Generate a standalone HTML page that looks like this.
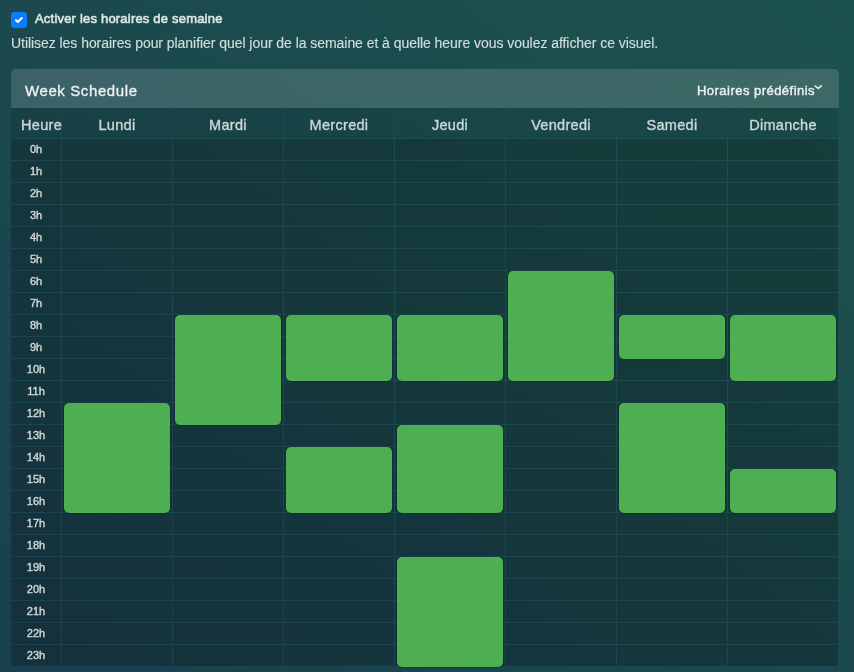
<!DOCTYPE html><html><head><meta charset="utf-8"><title>Week Schedule</title><style>
*{box-sizing:border-box;margin:0;padding:0}
.t{will-change:transform}
html,body{width:854px;height:672px;overflow:hidden}
body{position:relative;font-family:"Liberation Sans",Arial,sans-serif;
background:linear-gradient(to top right,#1a4050 0%,#1b494e 50%,#1c524d 100%);}
.cb{position:absolute;left:11px;top:12px;width:16px;height:16px;border-radius:3px;background:#0b7bff}
.cb svg{position:absolute;left:0;top:0}
.lbl{position:absolute;left:35px;top:10px;font-size:13px;line-height:17px;color:#dde5e5;white-space:nowrap;letter-spacing:0.2px;-webkit-text-stroke:0.6px #dde5e5}
.desc{position:absolute;left:11px;top:35px;font-size:14px;line-height:17px;color:#d3dcdc;letter-spacing:-0.05px;white-space:nowrap;-webkit-text-stroke:0.15px #d3dcdc}
.hdr{position:absolute;left:11px;top:69px;width:828px;height:39px;border-radius:5px 5px 0 0;background:rgba(255,255,255,0.145)}
.ttl{position:absolute;left:25px;top:81px;font-size:15px;line-height:19px;letter-spacing:0.6px;color:#f0f4f4;white-space:nowrap;-webkit-text-stroke:0.3px #f0f4f4}
.pre{position:absolute;left:697px;top:83px;font-size:13px;line-height:16px;color:#eef3f3;white-space:nowrap;letter-spacing:0.47px;-webkit-text-stroke:0.4px #eef3f3}
.chev{position:absolute;left:813px;top:83px}
.hc{position:absolute;top:108px;height:30px;background:rgba(0,0,0,0.09)}
.hv{position:absolute;top:108px;height:30px;width:1px;background:rgba(255,255,255,0.025)}
.bc{position:absolute;top:139px;height:527px;background:repeating-linear-gradient(to bottom,rgba(0,0,0,0.24) 0,rgba(0,0,0,0.24) 21px,transparent 21px,transparent 22px)}
.th{position:absolute;top:110px;height:31px;line-height:31px;text-align:center;font-size:14.5px;letter-spacing:0.3px;-webkit-text-stroke:0.35px #cdd8d8;color:#cdd8d8;white-space:nowrap}
.hr{position:absolute;left:11px;width:50px;text-align:center;font-size:11px;-webkit-text-stroke:0.4px #cfd7d7;color:#cfd7d7;line-height:21px;height:21px}
.blk{position:absolute;width:106px;background:#4daf51;border-radius:5px;box-shadow:0 0 2px rgba(0,0,0,0.35)}
</style></head><body>
<div class="cb"><svg width="16" height="16" viewBox="0 0 16 16"><path d="M5 8.2 L6.8 9.9 L10.8 6.1" fill="none" stroke="#fff" stroke-width="2.1" stroke-linecap="round" stroke-linejoin="round"/></svg></div>
<div class="lbl t">Activer les horaires de semaine</div>
<div class="desc t">Utilisez les horaires pour planifier quel jour de la semaine et à quelle heure vous voulez afficher ce visuel.</div>
<div class="hdr"></div><div class="ttl t">Week Schedule</div>
<div class="pre t">Horaires prédéfinis</div>
<svg class="chev" width="12" height="8" viewBox="0 0 12 8"><path d="M2.3 3.1 L5.2 5.5 L8.3 2.8" fill="none" stroke="#eef3f3" stroke-width="1.6" stroke-linecap="round" stroke-linejoin="round"/></svg>
<div class="hc" style="left:11px;width:827px"></div>
<div class="hv" style="left:61px"></div>
<div class="hv" style="left:172px"></div>
<div class="hv" style="left:283px"></div>
<div class="hv" style="left:394px"></div>
<div class="hv" style="left:505px"></div>
<div class="hv" style="left:616px"></div>
<div class="hv" style="left:727px"></div>
<div class="bc" style="left:11px;width:50px"></div>
<div class="bc" style="left:62px;width:110px"></div>
<div class="bc" style="left:173px;width:110px"></div>
<div class="bc" style="left:284px;width:110px"></div>
<div class="bc" style="left:395px;width:110px"></div>
<div class="bc" style="left:506px;width:110px"></div>
<div class="bc" style="left:617px;width:110px"></div>
<div class="bc" style="left:728px;width:110px"></div>
<div class="th t" style="left:21px;text-align:left">Heure</div>
<div class="th t" style="left:62px;width:110px">Lundi</div>
<div class="th t" style="left:173px;width:110px">Mardi</div>
<div class="th t" style="left:284px;width:110px">Mercredi</div>
<div class="th t" style="left:395px;width:110px">Jeudi</div>
<div class="th t" style="left:506px;width:110px">Vendredi</div>
<div class="th t" style="left:617px;width:110px">Samedi</div>
<div class="th t" style="left:728px;width:110px">Dimanche</div>
<div class="hr t" style="top:139px">0h</div>
<div class="hr t" style="top:161px">1h</div>
<div class="hr t" style="top:183px">2h</div>
<div class="hr t" style="top:205px">3h</div>
<div class="hr t" style="top:227px">4h</div>
<div class="hr t" style="top:249px">5h</div>
<div class="hr t" style="top:271px">6h</div>
<div class="hr t" style="top:293px">7h</div>
<div class="hr t" style="top:315px">8h</div>
<div class="hr t" style="top:337px">9h</div>
<div class="hr t" style="top:359px">10h</div>
<div class="hr t" style="top:381px">11h</div>
<div class="hr t" style="top:403px">12h</div>
<div class="hr t" style="top:425px">13h</div>
<div class="hr t" style="top:447px">14h</div>
<div class="hr t" style="top:469px">15h</div>
<div class="hr t" style="top:491px">16h</div>
<div class="hr t" style="top:513px">17h</div>
<div class="hr t" style="top:535px">18h</div>
<div class="hr t" style="top:557px">19h</div>
<div class="hr t" style="top:579px">20h</div>
<div class="hr t" style="top:601px">21h</div>
<div class="hr t" style="top:623px">22h</div>
<div class="hr t" style="top:645px">23h</div>
<div class="blk" style="left:64px;top:403px;height:110px"></div>
<div class="blk" style="left:175px;top:315px;height:110px"></div>
<div class="blk" style="left:286px;top:315px;height:66px"></div>
<div class="blk" style="left:286px;top:447px;height:66px"></div>
<div class="blk" style="left:397px;top:315px;height:66px"></div>
<div class="blk" style="left:397px;top:425px;height:88px"></div>
<div class="blk" style="left:397px;top:557px;height:110px"></div>
<div class="blk" style="left:508px;top:271px;height:110px"></div>
<div class="blk" style="left:619px;top:315px;height:44px"></div>
<div class="blk" style="left:619px;top:403px;height:110px"></div>
<div class="blk" style="left:730px;top:315px;height:66px"></div>
<div class="blk" style="left:730px;top:469px;height:44px"></div>
</body></html>
